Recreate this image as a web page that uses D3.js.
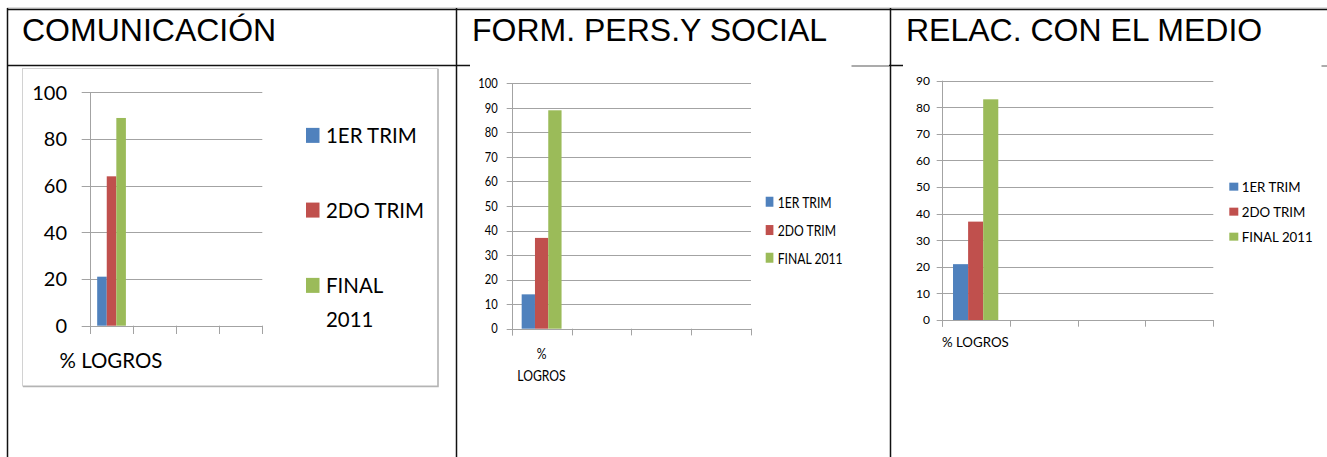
<!DOCTYPE html>
<html>
<head>
<meta charset="utf-8">
<script src="https://cdn.jsdelivr.net/npm/d3@7"></script>
<style>
  html, body { margin: 0; padding: 0; background: #fff; }
  svg { display: block; }
</style>
</head>
<body>
<svg id="chart" width="1327" height="457"></svg>
<script>
// ---------- DATA ----------
const titles = ["COMUNICACIÓN", "FORM. PERS.Y SOCIAL", "RELAC. CON EL MEDIO"];
const categories = ["% LOGROS", "", "", ""];
const seriesNames = ["1ER TRIM", "2DO TRIM", "FINAL 2011"];
const seriesColors = ["#4F81BD", "#C0504D", "#9BBB59"];
const valuesComunicacion = [21, 64, 89];
const valuesFormPers = [14, 37, 89];
const valuesRelac = [21, 37, 83];
const ticksComunicacion = [0, 20, 40, 60, 80, 100];
const ticksFormPers = [0, 10, 20, 30, 40, 50, 60, 70, 80, 90, 100];
const ticksRelac = [0, 10, 20, 30, 40, 50, 60, 70, 80, 90];

// ---------- LAYOUT ----------
const svg = d3.select("#chart");
const gridColor = "#a3a3a3";
const chartFont = "Lato, 'Open Sans', sans-serif";

const charts = [
  { values: valuesComunicacion, ticks: ticksComunicacion,
    x0: 90, x1: 262.3, yTop: 92.3, y0: 325.7, yTickLen: 8.3, xTickLen: 8.3,
    labelRight: 67, tickFont: 20, tickSx: 1, textSx: 0.93,
    legend: { sqX: 306, sqW: 13.5, sqH: 15, textX: 326, font: 22,
              baselines: [143.3, 218, 293.3], lineGap: 33.4, wrap: true },
    cat: { cx: 111, baseline: 368.3, font: 22, wrap: false } },
  { values: valuesFormPers, ticks: ticksFormPers,
    x0: 511.7, x1: 751, yTop: 83.3, y0: 328.7, yTickLen: 5, xTickLen: 6.7,
    labelRight: 497.7, tickFont: 13, tickSx: 0.86, textSx: 0.76,
    legend: { sqX: 765.7, sqW: 7.7, sqH: 10, textX: 777.7, font: 16,
              baselines: [207.5, 235.8, 263.5], lineGap: 0, wrap: false },
    cat: { cx: 541.5, baseline: 359.3, font: 16, wrap: true, lineGap: 21.4 } },
  { values: valuesRelac, ticks: ticksRelac,
    x0: 941.7, x1: 1213.3, yTop: 80.7, y0: 320, yTickLen: 5, xTickLen: 6.7,
    labelRight: 930, tickFont: 12, tickSx: 1, textSx: 0.95,
    legend: { sqX: 1229.3, sqW: 9, sqH: 8, textX: 1241.7, font: 14,
              baselines: [191.7, 216.7, 241.7], lineGap: 0, wrap: false },
    cat: { cx: 975.3, baseline: 346.7, font: 14, wrap: false } }
];

function addText(g, str, x, y, size, anchor, sx, fam) {
  return g.append("text")
    .attr("transform", `translate(${x},${y}) scale(${sx},1)`)
    .attr("font-family", fam || chartFont)
    .attr("font-size", size)
    .attr("text-anchor", anchor)
    .attr("fill", "#000")
    .text(str);
}

// ---------- TABLE ----------
const table = svg.append("g");
// chart 1 outer box
table.append("rect").attr("x", 22.5).attr("y", 68.5).attr("width", 415.5).attr("height", 317.5)
  .attr("fill", "#fff").attr("stroke", "#d2d2d2").attr("stroke-width", 1);
table.append("path").attr("d", "M438,69V386.5H23")
  .attr("fill", "none").attr("stroke", "#b4b4b4").attr("stroke-width", 1.5);

table.append("line").attr("x1", 7).attr("x2", 1327).attr("y1", 8).attr("y2", 8)
  .attr("stroke", "#bdbdbd").attr("stroke-width", 1);
table.append("line").attr("x1", 7).attr("x2", 1327).attr("y1", 9.5).attr("y2", 9.5)
  .attr("stroke", "#111").attr("stroke-width", 1.5);
table.append("line").attr("x1", 7).attr("x2", 1327).attr("y1", 65.5).attr("y2", 65.5)
  .attr("stroke", "#111").attr("stroke-width", 1.5);
// chart images covering parts of the header line (cols 2 and 3)
table.append("rect").attr("x", 470).attr("y", 64).attr("width", 419).attr("height", 3).attr("fill", "#fff");
table.append("rect").attr("x", 903).attr("y", 64).attr("width", 424).attr("height", 3).attr("fill", "#fff");
table.append("line").attr("x1", 851.5).attr("x2", 889).attr("y1", 66).attr("y2", 66)
  .attr("stroke", "#8f8f8f").attr("stroke-width", 1.5);
table.append("line").attr("x1", 1321.5).attr("x2", 1327).attr("y1", 66).attr("y2", 66)
  .attr("stroke", "#8f8f8f").attr("stroke-width", 1.5);

[7.5, 456.5, 890.5].forEach(x => {
  table.append("line").attr("x1", x).attr("x2", x).attr("y1", 8).attr("y2", 457)
    .attr("stroke", "#111").attr("stroke-width", 1.5);
});

const titleX = [22, 472, 906];
titles.forEach((t, i) => {
  addText(table, t, titleX[i], 40.5, 32, "start", 1, "'Liberation Sans', Arial, sans-serif");
});

// ---------- CHARTS ----------
charts.forEach(c => {
  const g = svg.append("g");
  const yMax = d3.max(c.ticks);
  const y = d3.scaleLinear().domain([0, yMax]).range([c.y0, c.yTop]);
  const x = d3.scaleBand().domain(categories.map((d, i) => i)).range([c.x0, c.x1]).padding(0);
  const bw = x.bandwidth();
  const gap = bw * 0.75 / 4.5;
  const xs = d3.scaleBand().domain(seriesNames).range([gap, bw - gap]).padding(0);

  // gridlines + y tick marks
  g.selectAll("line.grid").data(c.ticks).enter().append("line")
    .attr("x1", c.x0 - c.yTickLen).attr("x2", c.x1)
    .attr("y1", d => Math.round(y(d)) + 0.5).attr("y2", d => Math.round(y(d)) + 0.5)
    .attr("stroke", gridColor).attr("stroke-width", 1);
  // y axis line
  g.append("line").attr("x1", Math.round(c.x0) + 0.5).attr("x2", Math.round(c.x0) + 0.5)
    .attr("y1", y(yMax)).attr("y2", c.y0 + c.xTickLen)
    .attr("stroke", gridColor).attr("stroke-width", 1);
  // x tick marks at category boundaries
  const bounds = categories.map((d, i) => x(i)).concat([c.x1]);
  g.selectAll("line.xt").data(bounds).enter().append("line")
    .attr("x1", d => Math.round(d) + 0.5).attr("x2", d => Math.round(d) + 0.5)
    .attr("y1", c.y0).attr("y2", c.y0 + c.xTickLen)
    .attr("stroke", gridColor).attr("stroke-width", 1);

  // tick labels
  c.ticks.forEach(t => {
    addText(g, String(t), c.labelRight, y(t) + c.tickFont * 0.36, c.tickFont, "end", c.tickSx);
  });

  // bars (only the first category holds data)
  g.selectAll("rect.bar").data(c.values).enter().append("rect")
    .attr("x", (d, i) => x(0) + xs(seriesNames[i]))
    .attr("width", xs.bandwidth())
    .attr("y", d => y(d))
    .attr("height", d => c.y0 - y(d))
    .attr("fill", (d, i) => seriesColors[i]);

  // category label
  const catLines = c.cat.wrap ? categories[0].split(" ") : [categories[0]];
  catLines.forEach((ln, k) => {
    addText(g, ln, c.cat.cx, c.cat.baseline + k * (c.cat.lineGap || 0), c.cat.font, "middle", c.textSx);
  });

  // legend
  const L = c.legend;
  seriesNames.forEach((s, i) => {
    const base = L.baselines[i];
    const cap = L.font * 0.72;
    g.append("rect").attr("x", L.sqX).attr("width", L.sqW)
      .attr("y", base - cap / 2 - L.sqH / 2).attr("height", L.sqH)
      .attr("fill", seriesColors[i]);
    const lines = (L.wrap && s.indexOf(" ") > 0 && i === 2) ? s.split(" ") : [s];
    lines.forEach((ln, k) => {
      addText(g, ln, L.textX, base + k * L.lineGap, L.font, "start", c.textSx);
    });
  });
});
</script>
</body>
</html>
